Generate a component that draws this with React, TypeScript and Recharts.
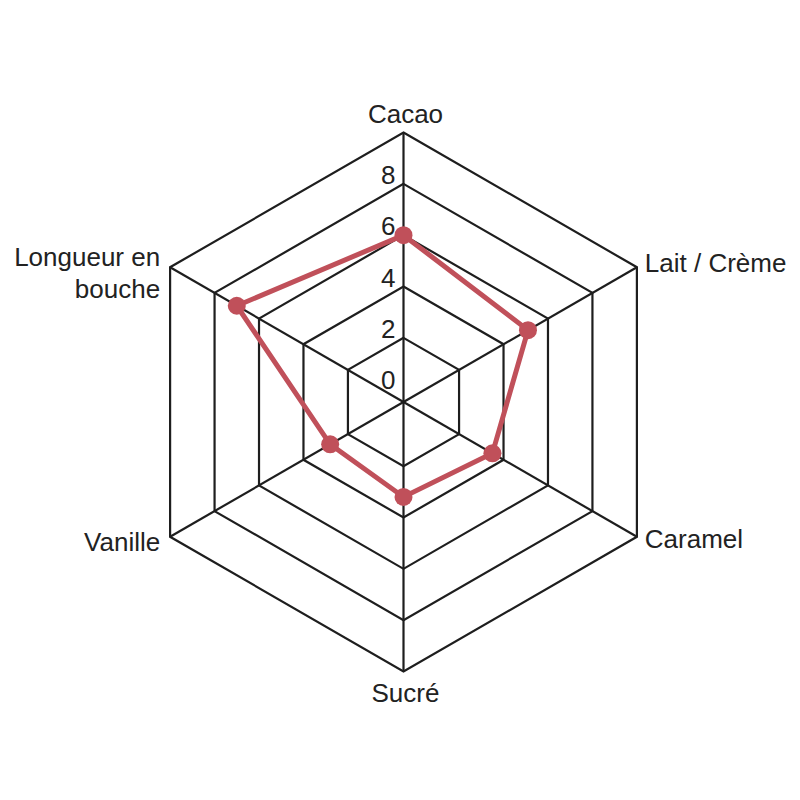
import React from 'react';
import { RadarChart, Radar, PolarGrid, PolarAngleAxis, PolarRadiusAxis } from 'recharts';

const categories = ['Cacao', 'Lait / Crème', 'Caramel', 'Sucré', 'Vanille', 'Longueur en bouche'];
const scores = [6, 5.1, 3.5, 3.2, 2.8, 7];
const radiusTicks = [0, 2, 4, 6, 8];
const gridLevels = [2, 4, 6, 8, 10];
const DOMAIN_MIN = -0.5;
const DOMAIN_MAX = 10;

const data = categories.map((c, i) => ({ axis: c, value: scores[i] }));

const OUTER_R = 269.5;
const CX = 403.5;
const CY = 402;
const FONT = '"Liberation Sans", Arial, sans-serif';
const TEXT_COLOR = '#222222';
const GRID_COLOR = '#1e1e1e';
const SERIES_COLOR = '#c0505a';

const gridRadii = gridLevels.map(v => (OUTER_R * (v - DOMAIN_MIN)) / (DOMAIN_MAX - DOMAIN_MIN));

function wrap(label: string, max = 12): string[] {
  const words = label.split(' ');
  const lines: string[] = [];
  let cur = '';
  for (const w of words) {
    const next = cur ? cur + ' ' + w : w;
    if (next.length > max && cur) {
      lines.push(cur);
      cur = w;
    } else {
      cur = next;
    }
  }
  if (cur) lines.push(cur);
  return lines;
}

const AngleTick = (props: any) => {
  const { x, y, cx, cy, payload } = props;
  const dx = x - cx;
  const dy = y - cy;
  const lines = wrap(String(payload.value));
  let anchor: 'start' | 'middle' | 'end' = 'middle';
  let tx = x;
  let ty = y;
  if (Math.abs(dx) < 1) {
    anchor = 'middle';
    tx = x + 2;
    ty = dy < 0 ? y - 11 : y + 13;
  } else if (dx > 0) {
    anchor = 'start';
    tx = x + 1;
    ty = dy < 0 ? y : y - 1.5;
  } else {
    anchor = 'end';
    tx = x - 3;
    ty = dy < 0 ? y : y + 1.7;
  }
  const lh = 32.6;
  const startY = lines.length > 1 ? ty - 6.6 : ty;
  return (
    <text
      x={tx}
      y={startY}
      textAnchor={anchor}
      dominantBaseline="central"
      fontFamily={FONT}
      fontSize={26}
      fill={TEXT_COLOR}
    >
      {lines.map((l, i) => (
        <tspan key={i} x={tx} dy={i === 0 ? 0 : lh}>
          {l}
        </tspan>
      ))}
    </text>
  );
};

const RadiusTick = (props: any) => {
  const { x, y, payload } = props;
  return (
    <text
      x={x - 8}
      y={y}
      textAnchor="end"
      fontFamily={FONT}
      fontSize={26}
      fill={TEXT_COLOR}
    >
      {payload.value}
    </text>
  );
};

export default function App() {
  return (
    <div style={{ position: 'absolute', left: 0, top: 0, width: 800, height: 800, background: '#fff' }}>
      <RadarChart
        width={800}
        height={800}
        data={data}
        cx={CX}
        cy={CY}
        outerRadius={OUTER_R}
        startAngle={90}
        endAngle={-270}
        margin={{ top: 0, right: 0, bottom: 0, left: 0 }}
      >
        <PolarGrid
          gridType="polygon"
          polarRadius={gridRadii}
          stroke={GRID_COLOR}
          strokeWidth={2.2}
          strokeOpacity={1}
        />
        <PolarAngleAxis dataKey="axis" tick={<AngleTick />} tickLine={false} axisLine={false} />
        <PolarRadiusAxis
          angle={90}
          domain={[DOMAIN_MIN, DOMAIN_MAX]}
          ticks={radiusTicks}
          tick={<RadiusTick />}
          axisLine={false}
          tickLine={false}
        />
        <Radar
          dataKey="value"
          stroke={SERIES_COLOR}
          strokeWidth={5}
          fill="none"
          fillOpacity={0}
          dot={{ r: 9, fill: SERIES_COLOR, stroke: 'none', fillOpacity: 1 }}
          isAnimationActive={false}
        />
      </RadarChart>
    </div>
  );
}
